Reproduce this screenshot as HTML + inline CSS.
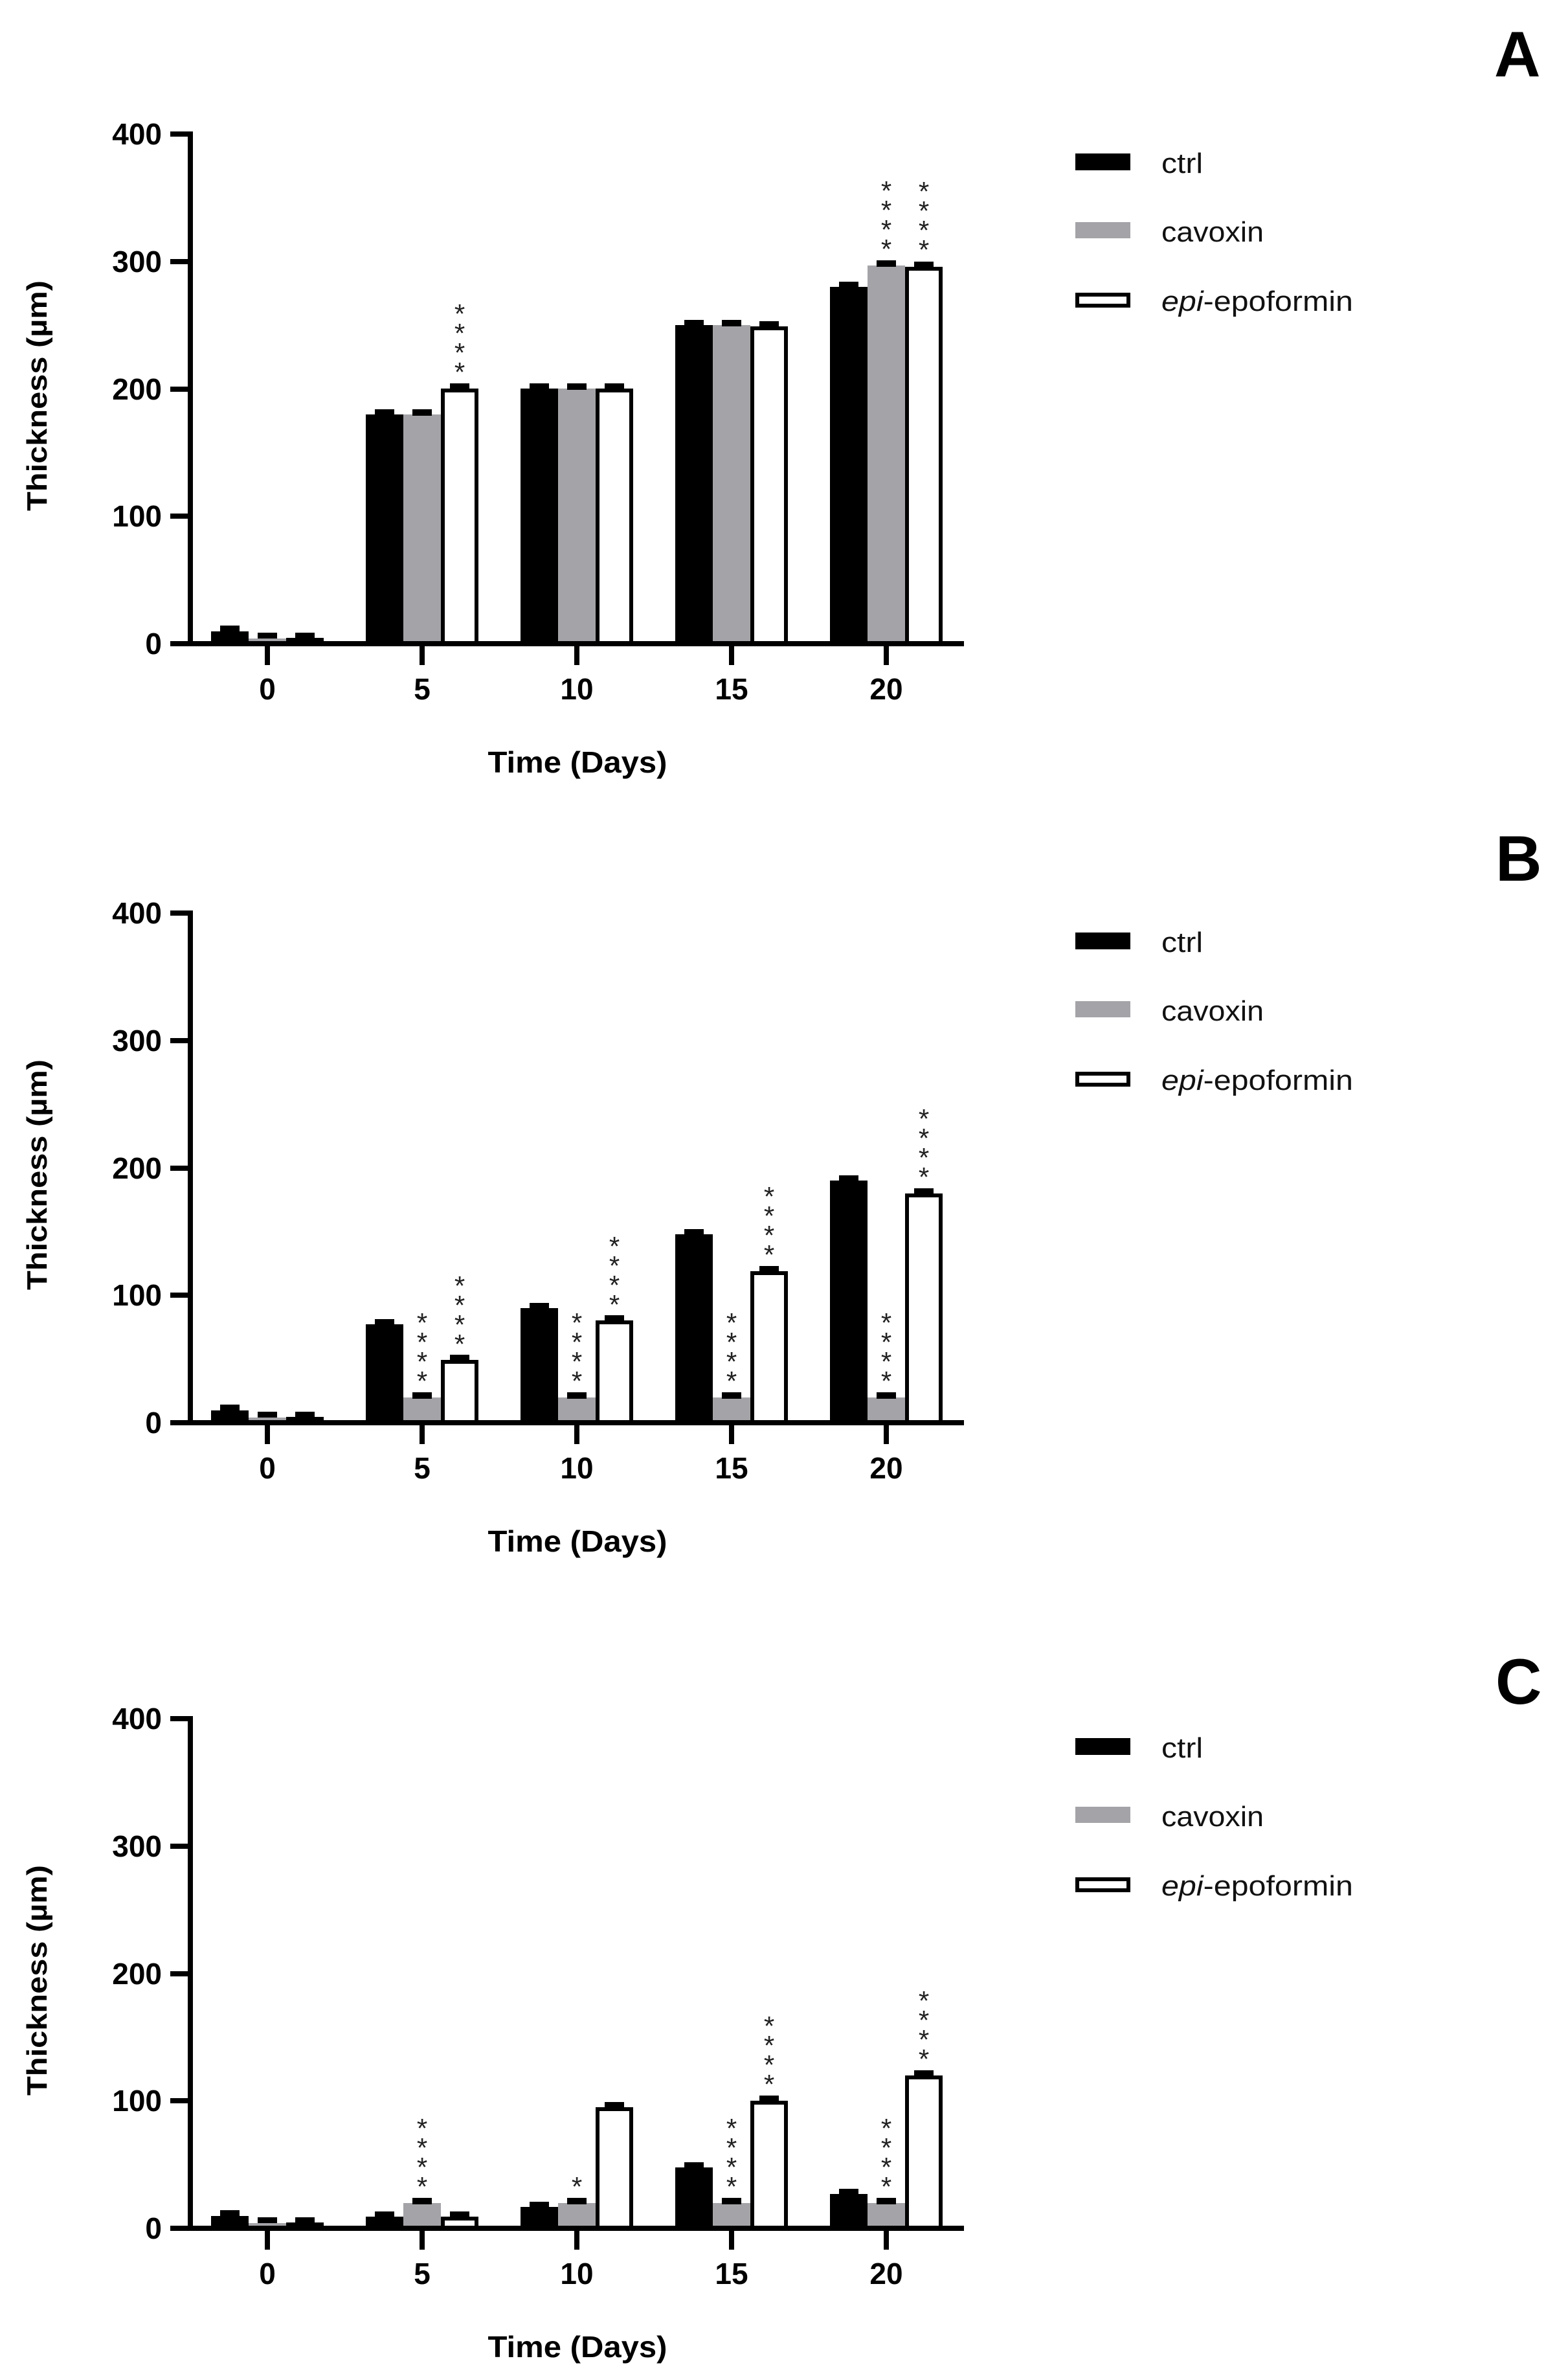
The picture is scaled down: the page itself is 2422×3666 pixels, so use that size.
<!DOCTYPE html>
<html><head><meta charset="utf-8"><style>html,body{margin:0;padding:0;background:#fff}svg{display:block}</style></head>
<body>
<svg width="2422" height="3666" viewBox="0 0 2422 3666" xmlns="http://www.w3.org/2000/svg" font-family="Liberation Sans, Arial, sans-serif">
<defs>
<g id="axes">
  <rect x="290" y="203" width="8" height="795" fill="#000"/>
  <rect x="263" y="990" width="1226" height="8" fill="#000"/>
  <rect x="263" y="203" width="31" height="8" fill="#000"/>
  <rect x="263" y="400" width="31" height="8" fill="#000"/>
  <rect x="263" y="597" width="31" height="8" fill="#000"/>
  <rect x="263" y="793" width="31" height="8" fill="#000"/>
  <rect x="409" y="994" width="8" height="33" fill="#000"/>
  <rect x="648" y="994" width="8" height="33" fill="#000"/>
  <rect x="887" y="994" width="8" height="33" fill="#000"/>
  <rect x="1126" y="994" width="8" height="33" fill="#000"/>
  <rect x="1365" y="994" width="8" height="33" fill="#000"/>
  <g font-size="46" font-weight="bold" text-anchor="end">
    <text x="250" y="223">400</text>
    <text x="250" y="420">300</text>
    <text x="250" y="617">200</text>
    <text x="250" y="813">100</text>
    <text x="250" y="1010">0</text>
  </g>
  <g font-size="46" font-weight="bold" text-anchor="middle">
    <text x="413" y="1080">0</text>
    <text x="652" y="1080">5</text>
    <text x="891" y="1080">10</text>
    <text x="1130" y="1080">15</text>
    <text x="1369" y="1080">20</text>
    <text x="892" y="1193" textLength="277" lengthAdjust="spacingAndGlyphs">Time (Days)</text>
    <text transform="translate(72,611) rotate(-90)" font-size="44" textLength="356" lengthAdjust="spacingAndGlyphs">Thickness (µm)</text>
  </g>
  <rect x="1661" y="237" width="85" height="26" fill="#000"/>
  <rect x="1661" y="343" width="85" height="25" fill="#a4a4a8"/>
  <rect x="1664" y="455" width="79" height="17" fill="#fff" stroke="#000" stroke-width="6"/>
  <g font-size="44" fill="#111">
    <text x="1794" y="267" textLength="64" lengthAdjust="spacingAndGlyphs">ctrl</text>
    <text x="1794" y="373" textLength="158" lengthAdjust="spacingAndGlyphs">cavoxin</text>
    <text x="1794" y="480" textLength="296" lengthAdjust="spacingAndGlyphs"><tspan font-style="italic">epi</tspan>-epoformin</text>
  </g>
</g>
</defs>

<!-- Panel A -->
<g>
  <rect x="326" y="975" width="58" height="19" fill="#000"/><rect x="340" y="966" width="30" height="10" fill="#000"/>
  <rect x="384" y="986" width="58" height="8" fill="#a4a4a8"/><rect x="398" y="977" width="30" height="9" fill="#000"/>
  <rect x="445" y="988" width="52" height="6" fill="#fff" stroke="#000" stroke-width="6"/><rect x="456" y="977" width="30" height="9" fill="#000"/>

  <rect x="565" y="640" width="58" height="354" fill="#000"/><rect x="579" y="632" width="30" height="10" fill="#000"/>
  <rect x="623" y="640" width="58" height="354" fill="#a4a4a8"/><rect x="637" y="632" width="30" height="10" fill="#000"/>
  <rect x="684" y="603" width="52" height="391" fill="#fff" stroke="#000" stroke-width="6"/><rect x="695" y="592" width="30" height="10" fill="#000"/>

  <rect x="804" y="600" width="58" height="394" fill="#000"/><rect x="818" y="592" width="30" height="10" fill="#000"/>
  <rect x="862" y="600" width="58" height="394" fill="#a4a4a8"/><rect x="876" y="592" width="30" height="10" fill="#000"/>
  <rect x="923" y="603" width="52" height="391" fill="#fff" stroke="#000" stroke-width="6"/><rect x="934" y="592" width="30" height="10" fill="#000"/>

  <rect x="1043" y="502" width="58" height="492" fill="#000"/><rect x="1057" y="494" width="30" height="10" fill="#000"/>
  <rect x="1101" y="502" width="58" height="492" fill="#a4a4a8"/><rect x="1115" y="494" width="30" height="10" fill="#000"/>
  <rect x="1162" y="507" width="52" height="487" fill="#fff" stroke="#000" stroke-width="6"/><rect x="1173" y="496" width="30" height="10" fill="#000"/>

  <rect x="1282" y="443" width="58" height="551" fill="#000"/><rect x="1296" y="435" width="30" height="10" fill="#000"/>
  <rect x="1340" y="410" width="58" height="584" fill="#a4a4a8"/><rect x="1354" y="402" width="30" height="10" fill="#000"/>
  <rect x="1401" y="415" width="52" height="579" fill="#fff" stroke="#000" stroke-width="6"/><rect x="1412" y="404" width="30" height="10" fill="#000"/>

  <g font-size="42" text-anchor="middle" fill="#222" transform="translate(0,5)">
    <text x="710" y="584">*</text><text x="710" y="554">*</text><text x="710" y="524">*</text><text x="710" y="494">*</text>
    <text x="1369" y="394">*</text><text x="1369" y="364">*</text><text x="1369" y="334">*</text><text x="1369" y="304">*</text>
    <text x="1427" y="395">*</text><text x="1427" y="365">*</text><text x="1427" y="335">*</text><text x="1427" y="305">*</text>
  </g>
  <use href="#axes"/>
  <text x="2308" y="118" font-size="99" font-weight="bold">A</text>
</g>

<!-- Panel B -->
<g transform="translate(0,1203)">
  <rect x="326" y="975" width="58" height="19" fill="#000"/><rect x="340" y="966" width="30" height="10" fill="#000"/>
  <rect x="384" y="986" width="58" height="8" fill="#a4a4a8"/><rect x="398" y="977" width="30" height="9" fill="#000"/>
  <rect x="445" y="988" width="52" height="6" fill="#fff" stroke="#000" stroke-width="6"/><rect x="456" y="977" width="30" height="9" fill="#000"/>

  <rect x="565" y="842" width="58" height="152" fill="#000"/><rect x="579" y="834" width="30" height="10" fill="#000"/>
  <rect x="623" y="955" width="58" height="39" fill="#a4a4a8"/><rect x="637" y="947" width="30" height="10" fill="#000"/>
  <rect x="684" y="900" width="52" height="94" fill="#fff" stroke="#000" stroke-width="6"/><rect x="695" y="889" width="30" height="10" fill="#000"/>

  <rect x="804" y="817" width="58" height="177" fill="#000"/><rect x="818" y="809" width="30" height="10" fill="#000"/>
  <rect x="862" y="955" width="58" height="39" fill="#a4a4a8"/><rect x="876" y="947" width="30" height="10" fill="#000"/>
  <rect x="923" y="839" width="52" height="155" fill="#fff" stroke="#000" stroke-width="6"/><rect x="934" y="828" width="30" height="10" fill="#000"/>

  <rect x="1043" y="703" width="58" height="291" fill="#000"/><rect x="1057" y="695" width="30" height="10" fill="#000"/>
  <rect x="1101" y="955" width="58" height="39" fill="#a4a4a8"/><rect x="1115" y="947" width="30" height="10" fill="#000"/>
  <rect x="1162" y="763" width="52" height="231" fill="#fff" stroke="#000" stroke-width="6"/><rect x="1173" y="752" width="30" height="10" fill="#000"/>

  <rect x="1282" y="620" width="58" height="374" fill="#000"/><rect x="1296" y="612" width="30" height="10" fill="#000"/>
  <rect x="1340" y="955" width="58" height="39" fill="#a4a4a8"/><rect x="1354" y="947" width="30" height="10" fill="#000"/>
  <rect x="1401" y="643" width="52" height="351" fill="#fff" stroke="#000" stroke-width="6"/><rect x="1412" y="632" width="30" height="10" fill="#000"/>

  <g font-size="42" text-anchor="middle" fill="#222" transform="translate(0,5)">
    <text x="652" y="939">*</text><text x="652" y="909">*</text><text x="652" y="879">*</text><text x="652" y="849">*</text>
    <text x="891" y="939">*</text><text x="891" y="909">*</text><text x="891" y="879">*</text><text x="891" y="849">*</text>
    <text x="1130" y="939">*</text><text x="1130" y="909">*</text><text x="1130" y="879">*</text><text x="1130" y="849">*</text>
    <text x="1369" y="939">*</text><text x="1369" y="909">*</text><text x="1369" y="879">*</text><text x="1369" y="849">*</text>
    <text x="710" y="882">*</text><text x="710" y="852">*</text><text x="710" y="822">*</text><text x="710" y="792">*</text>
    <text x="949" y="821">*</text><text x="949" y="791">*</text><text x="949" y="761">*</text><text x="949" y="731">*</text>
    <text x="1188" y="744">*</text><text x="1188" y="714">*</text><text x="1188" y="684">*</text><text x="1188" y="654">*</text>
    <text x="1427" y="624">*</text><text x="1427" y="594">*</text><text x="1427" y="564">*</text><text x="1427" y="534">*</text>
  </g>
  <use href="#axes"/>
  <text x="2310" y="157" font-size="99" font-weight="bold">B</text>
</g>

<!-- Panel C -->
<g transform="translate(0,2447)">
  <rect x="326" y="975" width="58" height="19" fill="#000"/><rect x="340" y="966" width="30" height="10" fill="#000"/>
  <rect x="384" y="986" width="58" height="8" fill="#a4a4a8"/><rect x="398" y="977" width="30" height="9" fill="#000"/>
  <rect x="445" y="988" width="52" height="6" fill="#fff" stroke="#000" stroke-width="6"/><rect x="456" y="977" width="30" height="9" fill="#000"/>

  <rect x="565" y="976" width="58" height="18" fill="#000"/><rect x="579" y="968" width="30" height="10" fill="#000"/>
  <rect x="623" y="955" width="58" height="39" fill="#a4a4a8"/><rect x="637" y="947" width="30" height="10" fill="#000"/>
  <rect x="684" y="979" width="52" height="15" fill="#fff" stroke="#000" stroke-width="6"/><rect x="695" y="968" width="30" height="10" fill="#000"/>

  <rect x="804" y="961" width="58" height="33" fill="#000"/><rect x="818" y="953" width="30" height="10" fill="#000"/>
  <rect x="862" y="955" width="58" height="39" fill="#a4a4a8"/><rect x="876" y="947" width="30" height="10" fill="#000"/>
  <rect x="923" y="810" width="52" height="184" fill="#fff" stroke="#000" stroke-width="6"/><rect x="934" y="799" width="30" height="10" fill="#000"/>

  <rect x="1043" y="900" width="58" height="94" fill="#000"/><rect x="1057" y="892" width="30" height="10" fill="#000"/>
  <rect x="1101" y="955" width="58" height="39" fill="#a4a4a8"/><rect x="1115" y="947" width="30" height="10" fill="#000"/>
  <rect x="1162" y="800" width="52" height="194" fill="#fff" stroke="#000" stroke-width="6"/><rect x="1173" y="789" width="30" height="10" fill="#000"/>

  <rect x="1282" y="941" width="58" height="53" fill="#000"/><rect x="1296" y="933" width="30" height="10" fill="#000"/>
  <rect x="1340" y="955" width="58" height="39" fill="#a4a4a8"/><rect x="1354" y="947" width="30" height="10" fill="#000"/>
  <rect x="1401" y="761" width="52" height="233" fill="#fff" stroke="#000" stroke-width="6"/><rect x="1412" y="750" width="30" height="10" fill="#000"/>

  <g font-size="42" text-anchor="middle" fill="#222" transform="translate(0,5)">
    <text x="652" y="939">*</text><text x="652" y="909">*</text><text x="652" y="879">*</text><text x="652" y="849">*</text>
    <text x="891" y="939">*</text>
    <text x="1130" y="939">*</text><text x="1130" y="909">*</text><text x="1130" y="879">*</text><text x="1130" y="849">*</text>
    <text x="1369" y="939">*</text><text x="1369" y="909">*</text><text x="1369" y="879">*</text><text x="1369" y="849">*</text>
    <text x="1188" y="781">*</text><text x="1188" y="751">*</text><text x="1188" y="721">*</text><text x="1188" y="691">*</text>
    <text x="1427" y="742">*</text><text x="1427" y="712">*</text><text x="1427" y="682">*</text><text x="1427" y="652">*</text>
  </g>
  <use href="#axes"/>
  <text x="2310" y="184" font-size="99" font-weight="bold">C</text>
</g>
</svg>
</body></html>
